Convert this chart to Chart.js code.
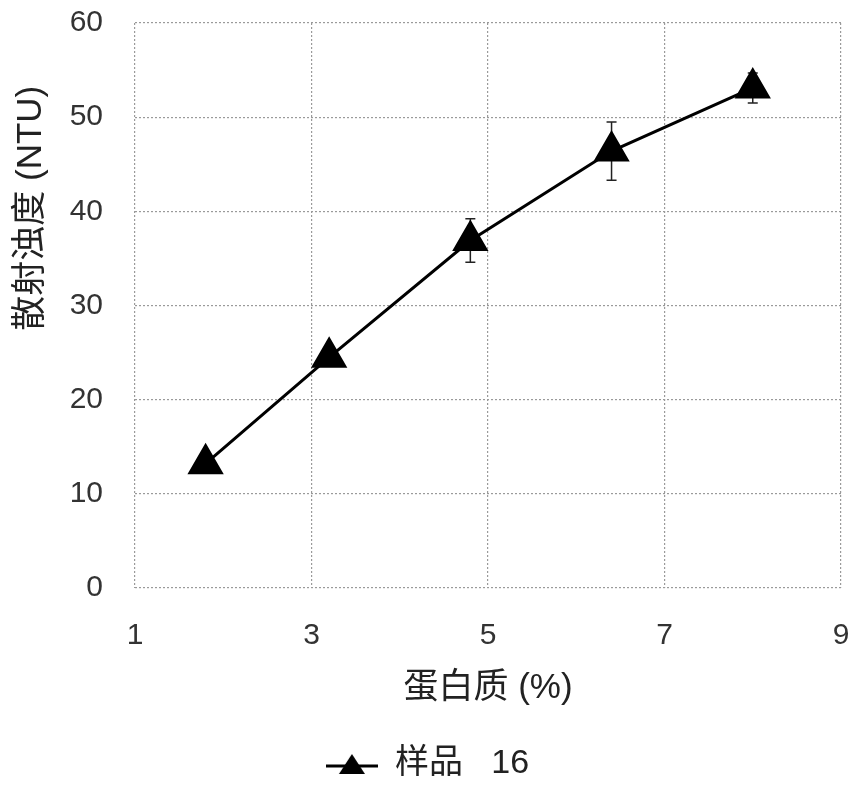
<!DOCTYPE html>
<html>
<head>
<meta charset="utf-8">
<script src="https://cdn.jsdelivr.net/npm/chart.js@4/dist/chart.umd.min.js"></script>
<style>
  html, body { margin: 0; padding: 0; background: #fff; }
  #wrap { width: 862px; height: 791px; }
</style>
</head>
<body>
<div id="wrap"><canvas id="c" width="862" height="791"></canvas></div>
<script>
// data
const proteinPct = [1.8, 3.2, 4.8, 6.4, 8.0];
const turbidity = [13.2, 24.5, 36.9, 46.4, 53.1];
const errPlusMinus = [0, 0, 2.3, 3.1, 1.6];
const xTicks = [1, 3, 5, 7, 9];
const yTicks = [0, 10, 20, 30, 40, 50, 60];

const seriesLabel = '样品   16';
const xTitle = '蛋白质 (%)';
// leading spaces push the rotated title up, as in the original
const yTitle = '                    散射浊度 (NTU)';

const fontFam = '"Liberation Sans", "Noto Sans CJK SC", sans-serif';

// legend marker: short line with a triangle on it
function legendMarker() {
    const cv = document.createElement('canvas');
    cv.width = 52; cv.height = 24;
    const g = cv.getContext('2d');
    g.strokeStyle = '#000';
    g.lineWidth = 3;
    g.beginPath();
    g.moveTo(0, 14); g.lineTo(52, 14);
    g.stroke();
    g.fillStyle = '#000';
    g.beginPath();
    g.moveTo(26, 2); g.lineTo(39, 22); g.lineTo(13, 22);
    g.closePath();
    g.fill();
    return cv;
}

// error bars, drawn with the chart's own scales
const errorBars = {
    id: 'errorBars',
    beforeDatasetsDraw(chart) {
        const { ctx, scales: { x, y } } = chart;
        ctx.save();
        ctx.strokeStyle = '#222';
        ctx.lineWidth = 1.5;
        proteinPct.forEach((p, i) => {
            const e = errPlusMinus[i];
            if (!e) return;
            const px = x.getPixelForValue(p);
            const top = y.getPixelForValue(turbidity[i] + e);
            const bot = y.getPixelForValue(turbidity[i] - e);
            ctx.beginPath();
            ctx.moveTo(px, top); ctx.lineTo(px, bot);
            ctx.moveTo(px - 5, top); ctx.lineTo(px + 5, top);
            ctx.moveTo(px - 5, bot); ctx.lineTo(px + 5, bot);
            ctx.stroke();
        });
        ctx.restore();
    }
};

const gridStyle = {
    color: '#9a9a9a',
    lineWidth: 1.2,
    drawTicks: false
};

new Chart(document.getElementById('c'), {
    type: 'scatter',
    data: {
        datasets: [{
            label: seriesLabel,
            data: proteinPct.map((p, i) => ({ x: p, y: turbidity[i] })),
            showLine: true,
            borderColor: '#000',
            backgroundColor: '#000',
            borderWidth: 3,
            pointStyle: 'triangle',
            pointRadius: 18,
            pointHoverRadius: 18,
            tension: 0
        }]
    },
    options: {
        responsive: false,
        animation: false,
        layout: { padding: { left: 10, right: 17, top: 23, bottom: 0 } },
        plugins: {
            tooltip: { enabled: false },
            legend: {
                position: 'bottom',
                labels: {
                    color: '#222',
                    font: { family: fontFam, size: 34 },
                    usePointStyle: true,
                    pointStyleWidth: 52,
                    padding: 11,
                    generateLabels(chart) {
                        return [{
                            text: seriesLabel,
                            pointStyle: legendMarker(),
                            fillStyle: '#000',
                            strokeStyle: '#000',
                            lineWidth: 0,
                            fontColor: '#222',
                            datasetIndex: 0
                        }];
                    }
                }
            }
        },
        scales: {
            x: {
                type: 'linear',
                min: 1,
                max: 9,
                afterBuildTicks: (axis) => { axis.ticks = xTicks.map(v => ({ value: v })); },
                afterFit: (axis) => {
                    axis.height = 148;
                    axis.paddingLeft = 0;
                    axis.paddingRight = 0;
                },
                ticks: {
                    color: '#333',
                    font: { family: fontFam, size: 30 },
                    padding: 30
                },
                grid: gridStyle,
                border: { display: false, dash: [2, 2] },
                title: {
                    display: true,
                    text: xTitle,
                    color: '#222',
                    font: { family: fontFam, size: 35 },
                    padding: { top: 0, bottom: 27 }
                }
            },
            y: {
                min: 0,
                max: 60,
                afterBuildTicks: (axis) => { axis.ticks = yTicks.map(v => ({ value: v })); },
                afterFit: (axis) => {
                    axis.width = 125;
                    axis.paddingTop = 0;
                    axis.paddingBottom = 0;
                },
                ticks: {
                    color: '#333',
                    font: { family: fontFam, size: 30 },
                    padding: 32
                },
                grid: gridStyle,
                border: { display: false, dash: [2, 2] },
                title: {
                    display: true,
                    text: yTitle,
                    color: '#222',
                    font: { family: fontFam, size: 35 },
                    padding: { top: 0, bottom: 0 }
                }
            }
        }
    },
    plugins: [errorBars]
});
</script>
</body>
</html>
